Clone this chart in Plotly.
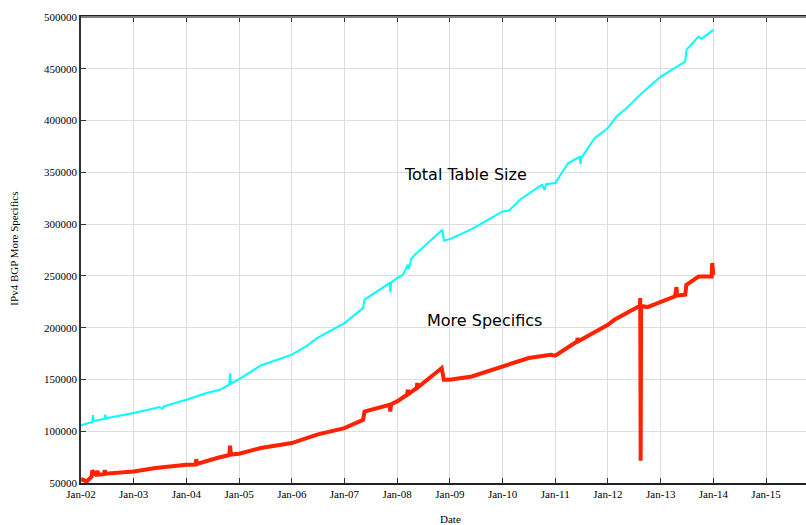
import plotly.graph_objects as go

# Total table size (cyan)
total_dates = [
    "2002-01-01", "2002-03-20", "2002-03-25", "2002-03-30", "2002-06-14", "2002-06-18", "2002-06-24",
    "2003-01-01", "2003-07-01", "2003-07-20", "2003-07-28", "2004-01-01", "2004-05-20", "2004-08-20",
    "2004-10-25", "2004-10-30", "2004-11-05", "2005-01-01", "2005-06-01", "2006-01-01",
    "2006-04-10", "2006-07-01", "2007-01-01", "2007-05-10", "2007-05-20", "2007-11-10",
    "2007-11-15", "2007-11-20", "2008-01-01", "2008-02-10", "2008-03-15", "2008-03-22",
    "2008-04-10", "2008-05-15", "2008-11-10", "2008-11-20", "2009-01-01", "2009-06-01",
    "2010-01-01", "2010-02-15", "2010-05-01", "2010-10-01", "2010-10-20", "2010-10-28",
    "2011-01-01", "2011-04-01", "2011-06-20", "2011-06-25", "2011-07-01", "2011-10-01",
    "2012-01-01", "2012-03-01", "2012-05-10", "2012-08-10", "2013-01-01", "2013-04-10",
    "2013-06-20", "2013-06-28", "2013-09-20", "2013-10-10", "2014-01-01",
]
total_values = [
    105600, 109000, 115500, 110000, 112000, 116000, 112500,
    117600, 123400, 121500, 124000, 130400, 136900, 140000,
    145000, 156000, 146000, 150400, 163500, 173900,
    181900, 190500, 204400, 218900, 227000, 243000,
    234000, 243500, 247900, 251000, 260700, 257000,
    267000, 272000, 294500, 284200, 285500, 295200,
    312200, 313000, 323500, 338000, 333000, 338500,
    339600, 359000, 365000, 358000, 364000, 383000,
    392700, 403900, 412000, 424800, 442500, 450600,
    457000, 468300, 481000, 479000, 487600,
]

# More specifics (red)
more_dates = [
    "2002-01-01", "2002-02-10", "2002-03-15", "2002-03-20", "2002-04-20", "2002-04-25", "2002-05-01",
    "2002-06-10", "2002-06-15", "2002-06-20", "2003-01-01", "2003-06-01", "2004-01-01",
    "2004-03-05", "2004-03-10", "2004-03-15", "2004-08-01", "2004-10-25", "2004-10-30",
    "2004-11-05", "2005-01-01", "2005-06-01", "2006-01-01", "2006-07-01", "2007-01-01",
    "2007-05-10", "2007-05-20", "2007-11-10", "2007-11-15", "2007-11-20", "2008-01-01",
    "2008-03-10", "2008-03-15", "2008-03-20", "2008-05-15", "2008-05-20", "2008-05-25",
    "2008-11-05", "2008-11-20", "2009-01-01", "2009-06-01", "2010-01-01", "2010-05-01",
    "2010-07-01", "2010-12-01", "2011-01-01", "2011-06-01", "2011-06-05", "2011-06-10",
    "2011-11-01", "2012-01-01", "2012-02-15", "2012-07-01", "2012-08-10", "2012-08-12",
    "2012-08-15", "2012-08-18", "2012-10-01", "2013-01-01", "2013-04-10", "2013-04-20",
    "2013-04-25", "2013-06-20", "2013-06-28", "2013-09-20", "2013-12-20", "2013-12-24",
    "2014-01-01",
]
more_values = [
    53900, 51500, 56000, 62000, 57000, 62000, 58000,
    58500, 62500, 59000, 61200, 64500, 67700,
    67800, 73000, 68500, 74100, 77000, 86000,
    77500, 78300, 83800, 88600, 97000, 103000,
    111000, 119000, 125600, 119000, 126000, 128800,
    135200, 140000, 136000, 141700, 146500, 142500,
    161000, 149700, 149700, 152900, 162600, 167400,
    170700, 173900, 172900, 186700, 190000, 187000,
    198000, 202800, 207600, 217300, 221200, 228600,
    71500, 221000, 219900, 225300, 230200, 239200,
    231000, 231800, 241400, 249400, 249400, 262400,
    251000,
]

y_ticks = [50000, 100000, 150000, 200000, 250000, 300000, 350000, 400000, 450000, 500000]

fig = go.Figure()
fig.add_trace(go.Scatter(x=total_dates, y=total_values, mode="lines",
                         line=dict(color="#00ffff", width=2), name="Total Table Size"))
fig.add_trace(go.Scatter(x=more_dates, y=more_values, mode="lines",
                         line=dict(color="#ff2200", width=4), name="More Specifics"))

serif = "Liberation Serif, Times New Roman, serif"
fig.update_layout(
    width=806, height=525,
    margin=dict(l=81, r=0, t=17, b=42),
    paper_bgcolor="white", plot_bgcolor="white",
    showlegend=False,
    font=dict(family=serif, size=11, color="black"),
    xaxis=dict(
        type="date", range=["2002-01-01", "2015-10-05"],
        tick0="2002-01-01", dtick="M12", tickformat="%b-%y",
        showgrid=True, gridcolor="#dddddd", gridwidth=1,
        ticks="inside", ticklen=5, tickcolor="#333333",
        showline=True, linecolor="#222222", linewidth=1.5, mirror="ticks",
        zeroline=False, tickfont=dict(family=serif, size=11),
    ),
    yaxis=dict(
        range=[50000, 500000], tickvals=y_ticks, tickformat="d",
        showgrid=True, gridcolor="#dddddd", gridwidth=1,
        ticks="inside", ticklen=5, tickcolor="#333333",
        showline=True, linecolor="#333333", linewidth=1.5, mirror=False,
        zeroline=False, tickfont=dict(family=serif, size=11),
    ),
    shapes=[
        dict(type="line", xref="paper", yref="paper", x0=0, x1=1, y0=1, y1=1,
             line=dict(color="#808080", width=2), layer="above"),
    ],
    annotations=[
        dict(text="Total Table Size", xref="paper", yref="paper", x=0.5297, y=0.661,
             showarrow=False, font=dict(family="DejaVu Sans", size=16, color="black")),
        dict(text="More Specifics", xref="paper", yref="paper", x=0.557, y=0.324,
             showarrow=False, font=dict(family="DejaVu Sans", size=16, color="black")),
        dict(text="Date", xref="paper", yref="paper", x=0.509, y=-0.077, yanchor="middle",
             showarrow=False, font=dict(family=serif, size=11, color="black")),
        dict(text="IPv4 BGP More Specifics", xref="paper", yref="paper", x=-0.093, y=0.502,
             textangle=-90, showarrow=False, xanchor="center", yanchor="middle",
             font=dict(family=serif, size=11, color="black")),
    ],
)
fig.write_html("out.html", config={"displayModeBar": False},
               post_script="document.body.style.margin='0';document.body.style.overflow='hidden';")
